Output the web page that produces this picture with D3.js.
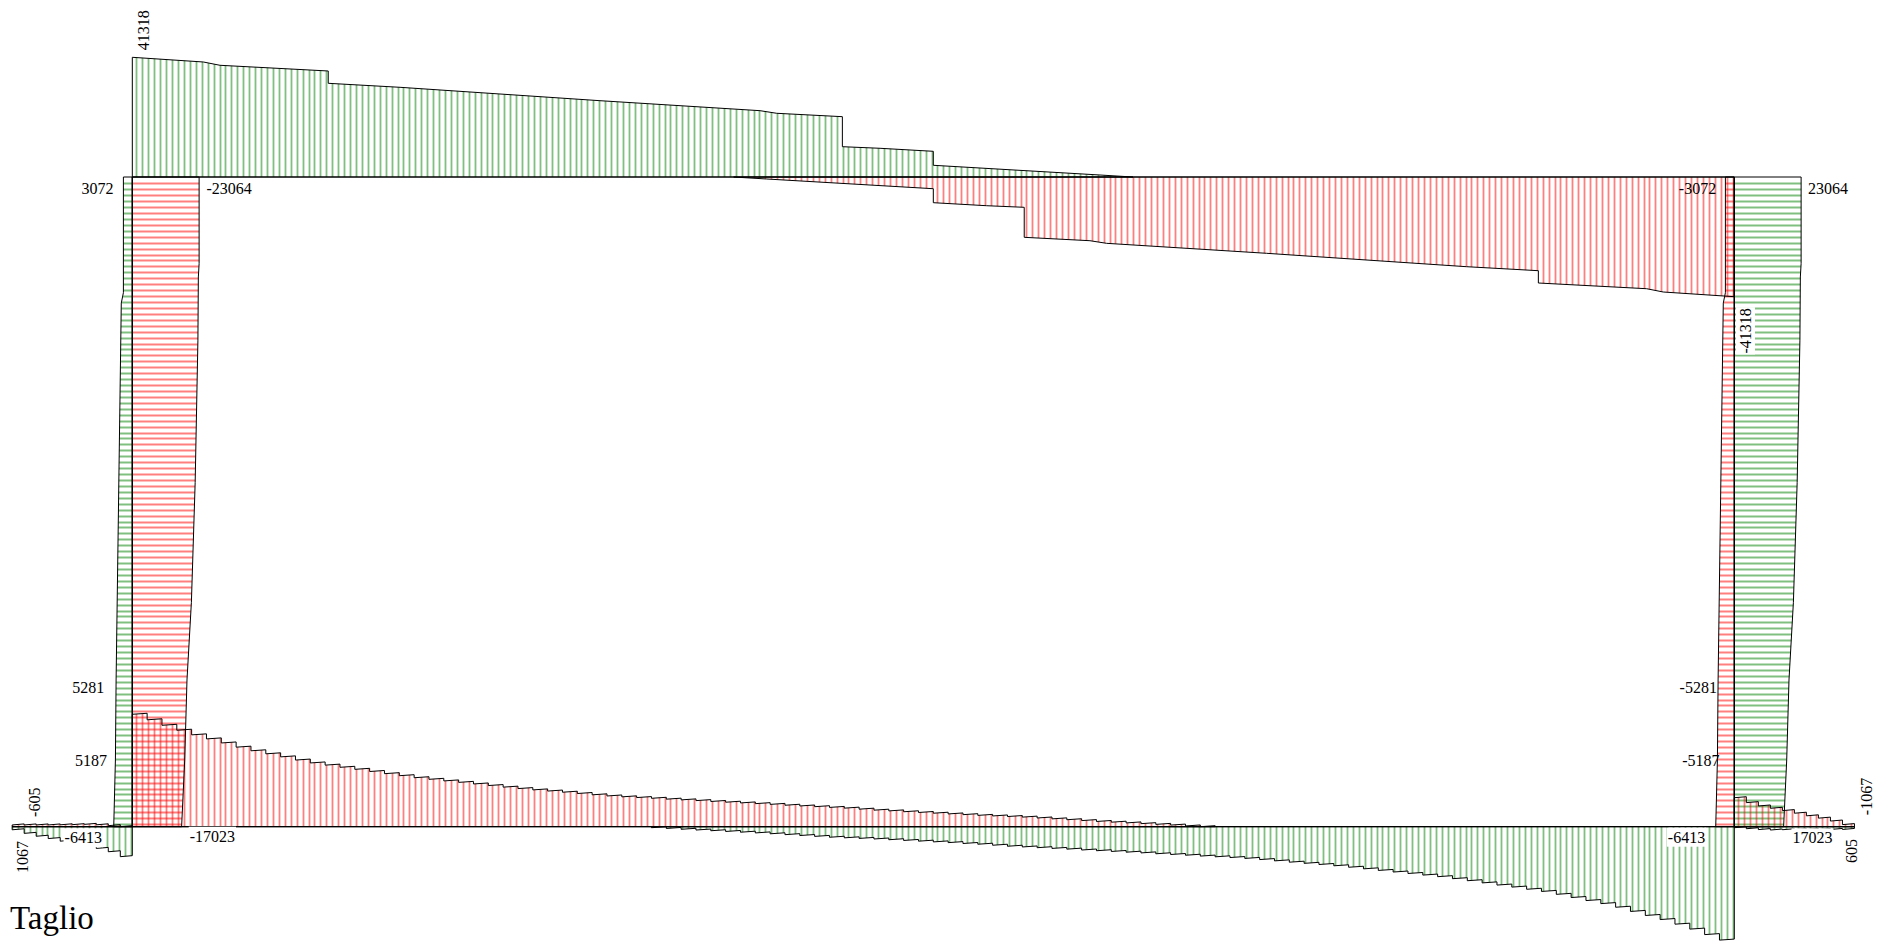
<!DOCTYPE html>
<html>
<head>
<meta charset="utf-8">
<title>Taglio</title>
<script src="https://cdn.jsdelivr.net/npm/d3@7/dist/d3.min.js"></script>
<style>
  html, body { margin: 0; padding: 0; background: #ffffff; }
  svg { display: block; }
  text { font-family: "Liberation Serif", "Times New Roman", serif; fill: #000; }
</style>
</head>
<body>
<svg id="chart" width="1888" height="942"></svg>
<script>
// ---------------- frame geometry (m) ----------------
const span = 10.8;        // top beam and base slab between column axes
const colHeight = 4.38;   // column axis length
const slabStep = 0.1;     // base slab element length
const toeStep = 0.081;    // toe element length
const toeCount = 10;      // elements in each toe
const segmentLoad = 350;  // shear change along one element (distributed load)

// ---------------- top beam envelopes (position m / shear) ----------------
const topMaxPos = [0, 0.479, 0.591, 1.321, 1.321, 1.805, 3.153, 4.232, 4.344, 4.787, 4.787, 5.041, 5.4, 5.4, 6.524, 6.746];
const topMaxVal = [41318, 39700, 38560, 36590, 32340, 30960, 26340, 22890, 21990, 20820, 10460, 9910, 8870, 4040, 690, 0];
const topMinPos = [4.054, 4.276, 5.4, 5.4, 5.759, 6.013, 6.013, 6.456, 6.568, 7.647, 8.995, 9.479, 9.479, 10.209, 10.321, 10.8];
const topMinVal = [0, -690, -4040, -8870, -9910, -10460, -20820, -21990, -22890, -26340, -30960, -32340, -36590, -38560, -39700, -41318];

// ---------------- column envelopes (height from base m / shear) ----------------
const colMaxPos = [0, 0.45, 0.989, 1.513, 2.32, 3.28, 3.706, 3.796, 4.38];
const rightColMaxVal = [17023, 18090, 18880, 20400, 21700, 22650, 22800, 23064, 23064];
const leftColMinVal = [-17023, -18090, -18880, -20400, -21700, -22650, -22800, -23064, -23064];
const colMinPos = [0, 0.45, 0.989, 3.53, 3.6, 4.38];
const rightColMinVal = [-6413, -5830, -5590, -3800, -3072, -3072];
const leftColMaxVal = [6413, 5830, 5590, 3800, 3072, 3072];

// ---------------- base slab, stepped envelopes (value at start of each element) ----------------
const slabMinFirst = 0;
const slabMinStart = [
  -38800, -36900, -35000, -33300, -31700, -30300, -28900, -27450, -26200, -25150,
  -24100, -23000, -22000, -21250, -20500, -19800, -19050, -18300, -17600, -16900,
  -16350, -15800, -15300, -14750, -14200, -13650, -13150, -12700, -12300, -11900,
  -11450, -11000, -10600, -10300, -10050, -9800, -9500, -9250, -9000, -8700,
  -8450, -8200, -7950, -7700, -7400, -7150, -6900, -6650, -6400, -6050,
  -5700, -5450, -5150, -4900, -4650, -4400, -4150, -3900, -3700, -3500,
  -3300, -3000, -2700, -2400, -2100, -1800, -1550, -1300, -1050, -800,
  -550, -250, 0];
const slabMaxFirst = 35;
const slabMaxStart = [
  350, 600, 900, 1150, 1400, 1650, 1900, 2150, 2450, 2750,
  3050, 3350, 3650, 3850, 4050, 4250, 4500, 4750, 5000, 5250,
  5500, 5800, 6050, 6400, 6750, 7000, 7250, 7500, 7750, 8050,
  8300, 8550, 8800, 9050, 9350, 9600, 9850, 10150, 10400, 10650,
  10950, 11350, 11800, 12250, 12650, 13050, 13500, 14000, 14550, 15100,
  15650, 16150, 16700, 17250, 17950, 18650, 19400, 20150, 20850, 21600,
  22350, 23350, 24450, 25500, 26550, 27800, 29250, 30650, 32050, 33650,
  35350, 37250, 39150];

// toes (elements listed left to right)
const leftToeMaxStart = [1067, 2300, 3300, 4100, 5000, 5900, 6700, 7500, 8650, 10350];
const leftToeMinStart = [-605, -600, -600, -600, -650, -700, -800, -650, -350, 0];
const rightToeMinStart = [-10000, -8300, -7150, -6350, -5550, -4650, -3750, -2950, -1950, -717];
const rightToeMaxStart = [350, 700, 1000, 1150, 1050, 1000, 950, 950, 950, 955];

// value labels: text, x, y, anchor, rotated, white background
const labels = [
  ["41318", 148.6, 50.3, "start", true, false],
  ["3072", 113.5, 194, "end", false, false],
  ["-23064", 206.5, 194, "start", false, false],
  ["-3072", 1716.2, 194, "end", false, false],
  ["23064", 1808, 194, "start", false, false],
  ["-41318", 1751, 353.5, "start", true, true],
  ["5281", 104.3, 693.3, "end", false, false],
  ["5187", 106.9, 766, "end", false, false],
  ["-5281", 1716.9, 693.3, "end", false, false],
  ["-5187", 1719.5, 766, "end", false, false],
  ["-6413", 101.9, 843.3, "end", false, true],
  ["-17023", 189.7, 841.7, "start", false, true],
  ["-6413", 1705.2, 842.7, "end", false, true],
  ["17023", 1792.5, 843.3, "start", false, true],
  ["-605", 39.5, 816.9, "start", true, false],
  ["1067", 27.5, 872.9, "start", true, false],
  ["-1067", 1871.9, 815.2, "start", true, false],
  ["605", 1856.9, 862.9, "start", true, false]
];
const title = "Taglio";

// ---------------- scales ----------------
const xS = d3.scaleLinear().domain([0, span]).range([132.3, 1734.3]);
const yS = d3.scaleLinear().domain([0, colHeight]).range([826.7, 177]);
const vMax = d3.max([...topMaxVal, ...topMinVal].map(Math.abs));
const vS = d3.scaleLinear().domain([0, vMax]).range([0, 119.7]);

// positive shear is drawn on the outer side of every member
const members = {
  top:   (s, v) => [xS(s), yS(colHeight) - vS(v)],
  slab:  (s, v) => [xS(s), yS(0) + vS(v)],
  left:  (s, v) => [xS(0) - vS(v), yS(s)],
  right: (s, v) => [xS(span) + vS(v), yS(s)]
};

const GREEN = "rgb(0,128,0)", RED = "rgb(255,0,0)";
const hatchStep = 0.04;
const beamStations = d3.range(-30, 300).map(k => 0.028 + k * hatchStep);
const colStations = d3.range(0, 110).map(k => colHeight - 0.0425 - k * hatchStep);
const snap = p => Math.round(p) + 0.5;   // keep hatch strokes on the pixel grid

const svg = d3.select("#chart");
const defs = svg.append("defs");
const hatchLayer = svg.append("g");
const outlineLayer = svg.append("g");
const axisLayer = svg.append("g");
const labelLayer = svg.append("g");

const zip = (pos, val) => pos.map((p, i) => [p, val[i]]);

function stepped(startPos, step, starts, sign) {
  const clamp = v => sign > 0 ? Math.max(0, v) : Math.min(0, v);
  const pts = [];
  starts.forEach((v0, i) => {
    const s0 = startPos + i * step;
    pts.push([s0, clamp(v0)], [s0 + step, clamp(v0 - segmentLoad)]);
  });
  return pts;
}

let clipCount = 0;
function drawEnvelope(member, pts, color) {
  const toPx = members[member];
  const ring = [[pts[0][0], 0], ...pts, [pts[pts.length - 1][0], 0]].map(p => toPx(p[0], p[1]));
  const d = d3.line()(ring) + "Z";
  const id = "env" + (clipCount++);
  defs.append("clipPath").attr("id", id).append("path").attr("d", d);
  const g = hatchLayer.append("g").attr("clip-path", `url(#${id})`);
  const xe = d3.extent(ring, p => p[0]), ye = d3.extent(ring, p => p[1]);
  const beam = member === "top" || member === "slab";
  if (beam) {
    const xs = beamStations.map(s => snap(xS(s))).filter(x => x >= xe[0] - 1 && x <= xe[1] + 1);
    g.selectAll("line").data(xs).join("line")
      .attr("x1", x => x).attr("x2", x => x)
      .attr("y1", ye[0] - 1).attr("y2", ye[1] + 1);
  } else {
    const ys = colStations.map(s => snap(yS(s))).filter(y => y >= ye[0] - 1 && y <= ye[1] + 1);
    g.selectAll("line").data(ys).join("line")
      .attr("y1", y => y).attr("y2", y => y)
      .attr("x1", xe[0] - 1).attr("x2", xe[1] + 1);
  }
  g.selectAll("line").attr("stroke", color).attr("stroke-opacity", 0.5).attr("stroke-width", 1.8);
  outlineLayer.append("path").attr("d", d)
    .attr("fill", "none").attr("stroke", "#000").attr("stroke-width", 1)
    .attr("stroke-linejoin", "miter");
}

// top beam
drawEnvelope("top", zip(topMaxPos, topMaxVal), GREEN);
drawEnvelope("top", zip(topMinPos, topMinVal), RED);
// columns
drawEnvelope("left", zip(colMinPos, leftColMaxVal), GREEN);
drawEnvelope("left", zip(colMaxPos, leftColMinVal), RED);
drawEnvelope("right", zip(colMaxPos, rightColMaxVal), GREEN);
drawEnvelope("right", zip(colMinPos, rightColMinVal), RED);
// base slab
drawEnvelope("slab", stepped(slabMinFirst * slabStep, slabStep, slabMinStart, -1), RED);
drawEnvelope("slab", stepped(slabMaxFirst * slabStep, slabStep, slabMaxStart, 1), GREEN);
// toes
drawEnvelope("slab", stepped(-toeCount * toeStep, toeStep, leftToeMaxStart, 1), GREEN);
drawEnvelope("slab", stepped(-toeCount * toeStep, toeStep, leftToeMinStart, -1), RED);
drawEnvelope("slab", stepped(span, toeStep, rightToeMinStart, -1), RED);
drawEnvelope("slab", stepped(span, toeStep, rightToeMaxStart, 1), GREEN);

// member axes
const axes = [
  [[0, colHeight], [span, colHeight]],
  [[-toeCount * toeStep, 0], [span + toeCount * toeStep, 0]]
];
axes.forEach(a => axisLayer.append("line")
  .attr("x1", xS(a[0][0])).attr("y1", yS(a[0][1]))
  .attr("x2", xS(a[1][0])).attr("y2", yS(a[1][1]))
  .attr("stroke", "#000").attr("stroke-width", 1.2));
[0, span].forEach(s => axisLayer.append("line")
  .attr("x1", xS(s)).attr("x2", xS(s)).attr("y1", yS(0)).attr("y2", yS(colHeight))
  .attr("stroke", "#000").attr("stroke-width", 1.2));

// value labels
labels.forEach(([text, x, y, anchor, rotated, boxed]) => {
  const g = labelLayer.append("g")
    .attr("transform", rotated ? `translate(${x},${y}) rotate(-90)` : `translate(${x},${y})`);
  const t = g.append("text").attr("text-anchor", anchor).attr("font-size", 16).text(text);
  if (boxed) {
    const b = t.node().getBBox();
    g.insert("rect", "text").attr("x", b.x - 1).attr("y", b.y - 1)
      .attr("width", b.width + 2).attr("height", b.height + 2).attr("fill", "#fff");
  }
});

labelLayer.append("text").attr("x", 10).attr("y", 929).attr("font-size", 33).text(title);
</script>
</body>
</html>
